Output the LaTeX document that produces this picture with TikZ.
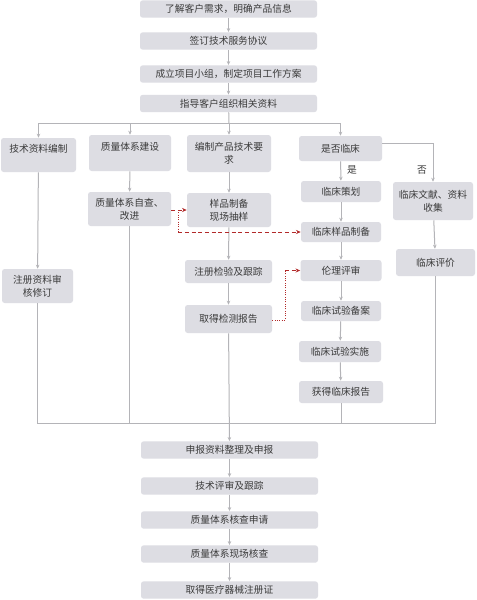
\documentclass[tikz,border=0pt]{standalone}
\usepackage{xcolor}
\usepackage{fontspec}
\usepackage{tikz}
\usetikzlibrary{calc,arrows.meta}
\newfontfamily\cjk{Noto Sans CJK SC}
\definecolor{bg}{HTML}{FFFFFF}
\definecolor{boxbg}{HTML}{DDDDE3}
\definecolor{ink}{HTML}{3A3A3A}
\definecolor{wire}{HTML}{B4B4B8}
\definecolor{mark}{HTML}{B22A2A}
\tikzset{
  box/.style={fill=boxbg, rounded corners=2pt, text=ink, align=center, inner sep=1pt,
    font=\cjk\fontsize{7.3}{9.8}\selectfont},
  wide/.style={box, minimum width=132.75pt, minimum height=13pt},
  wire/.style={draw=wire, line width=0.75pt},
  arr/.style={wire, -{Stealth[length=3pt,width=2.6pt]}},
  redarr/.style={draw=mark, line width=0.75pt, densely dashed, -{Stealth[length=3.5pt,width=3pt]}},
  redln/.style={draw=mark, line width=0.75pt, densely dotted},
  lab/.style={text=ink, font=\cjk\fontsize{7.3}{9}\selectfont},
}
\begin{document}
\begin{tikzpicture}[x=0.75pt,y=-0.75pt]
  \useasboundingbox[fill=bg] (0,0) rectangle (476,600);

  % top column
  \node[wide] (n1) at (228.5,9) {了解客户需求，明确产品信息};
  \node[wide] (n2) at (228.5,41) {签订技术服务协议};
  \node[wide] (n3) at (228.5,74) {成立项目小组，制定项目工作方案};
  \node[wide] (n4) at (228.5,103.5) {指导客户组织相关资料};

  % branches
  \node[box, minimum width=56.25pt, minimum height=25.5pt] (a1) at (38.5,155) {技术资料编制\\\phantom{技}};
  \node[box, minimum width=53.25pt, minimum height=25.5pt] (a2) at (37.5,286) {注册资料审\\核修订};

  \node[box, minimum width=61.5pt, minimum height=27pt] (b1) at (130,153) {质量体系建设\\\phantom{质}};
  \node[box, minimum width=62.25pt, minimum height=25.5pt] (b2) at (129.5,209) {质量体系自查、\\改进};

  \node[box, minimum width=63pt, minimum height=27.75pt] (c1) at (229,153.5) {编制产品技术要\\求};
  \node[box, minimum width=63pt, minimum height=25.5pt] (c2) at (229,210) {样品制备\\现场抽样};
  \node[box, minimum width=65.25pt, minimum height=17.25pt] (c3) at (228.5,271.5) {注册检验及跟踪};
  \node[box, minimum width=65.25pt, minimum height=21pt] (c4) at (228.5,319) {取得检测报告};

  \node[box, minimum width=62.25pt, minimum height=18.75pt] (d1) at (340.5,148.5) {是否临床};
  \node[box, minimum width=60pt, minimum height=15.75pt] (d2) at (341,191.5) {临床策划};
  \node[box, minimum width=60pt, minimum height=15pt] (d3) at (341,232) {临床样品制备};
  \node[box, minimum width=60.75pt, minimum height=15.75pt] (d4) at (341,270.5) {伦理评审};
  \node[box, minimum width=60pt, minimum height=15pt] (d5) at (341,311) {临床试验备案};
  \node[box, minimum width=61.5pt, minimum height=15.75pt] (d6) at (340,351.5) {临床试验实施};
  \node[box, minimum width=63pt, minimum height=16.5pt] (d7) at (341,392) {获得临床报告};

  \node[box, minimum width=60pt, minimum height=28.5pt] (e1) at (433,201) {临床文献、资料\\收集};
  \node[box, minimum width=59.25pt, minimum height=20.25pt] (e2) at (435.5,262.5) {临床评价};

  % bottom column
  \node[wide] (f1) at (229.5,450) {申报资料整理及申报};
  \node[wide] (f2) at (229.5,486) {技术评审及跟踪};
  \node[wide] (f3) at (229.5,520) {质量体系核查申请};
  \node[wide] (f4) at (229.5,554) {质量体系现场核查};
  \node[wide] (f5) at (229.5,590) {取得医疗器械注册证};

  \node[lab] (yes) at (352,170) {是};
  \node[lab] (no) at (422,170) {否};

  \coordinate (split) at (229,123);
  \coordinate (merge) at (229,423);
  \coordinate (dout) at ($(d1.east)+(0,-5.5)$);

  % connectors
  \draw[arr] (n1) -- (n2);
  \draw[arr] (n2) -- (n3);
  \draw[arr] (n3) -- (n4);
  \draw[wire] (n4) -- (split);
  \draw[arr] (split) -| (a1.north);
  \draw[arr] (split) -| (b1.north);
  \draw[arr] (split) -- (c1);
  \draw[arr] (split) -| (d1.north);
  \draw[arr] (dout) -| (e1.north);

  \draw[arr] (a1) -- (a2);
  \draw[arr] (b1) -- (b2);
  \draw[arr] (c1) -- (c2);
  \draw[arr] (c2) -- (c3);
  \draw[arr] (c3) -- (c4);
  \draw[arr] (d1) -- (d2);
  \draw[arr] (d2) -- (d3);
  \draw[arr] (d3) -- (d4);
  \draw[arr] (d4) -- (d5);
  \draw[arr] (d5) -- (d6);
  \draw[arr] (d6) -- (d7);
  \draw[arr] (e1) -- (e2);

  % merge to bottom
  \draw[wire] (a2.south) |- (merge);
  \draw[wire] (b2.south) |- (merge);
  \draw[wire] (e2.south) |- (merge);
  \draw[wire] (d7.south) -- (d7.south |- merge);
  \draw[arr] (c4) -- (f1);
  \draw[arr] (f1) -- (f2);
  \draw[arr] (f2) -- (f3);
  \draw[arr] (f3) -- (f4);
  \draw[arr] (f4) -- (f5);

  % red links
  \draw[redarr] (b2.east |- c2.west) -- (c2.west);
  \coordinate (rb) at ($(b2.east |- c2.west)+(7,0)$);
  \draw[redln] (rb) -- (rb |- d3.west);
  \draw[redarr] (rb |- d3.west) -- (d3.west);
  \coordinate (rc) at (285,320);
  \draw[redln] (c4.east |- rc) -- (rc) -- (rc |- d4.west);
  \draw[redarr] (rc |- d4.west) -- (d4.west);
\end{tikzpicture}
\end{document}
